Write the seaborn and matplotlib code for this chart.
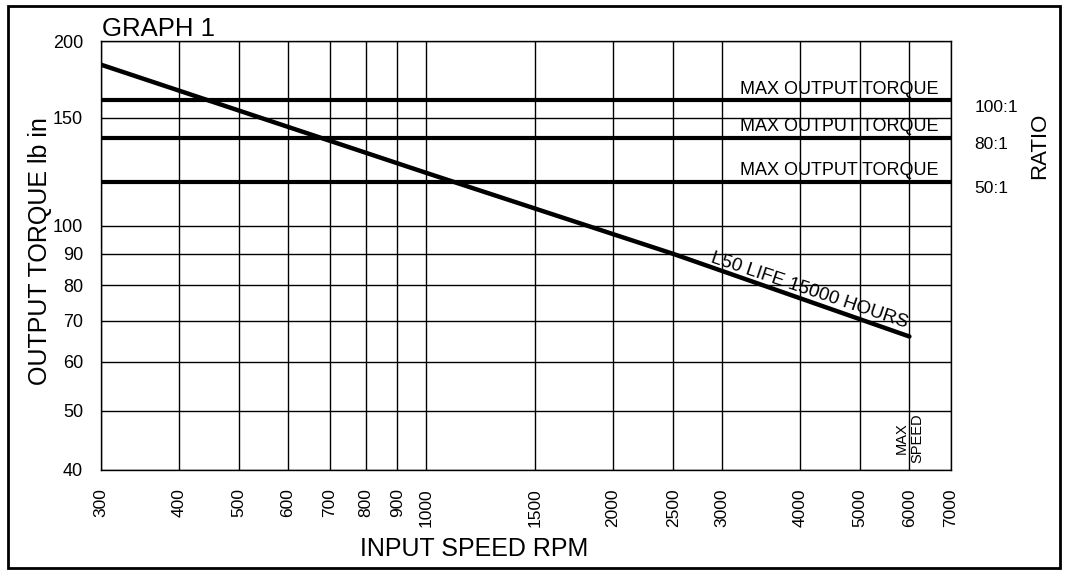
import numpy as np
import matplotlib
matplotlib.use("Agg")
import matplotlib.pyplot as plt
import matplotlib.ticker as mticker
from matplotlib.patches import Rectangle
import seaborn as sns

# Data
speed_rpm = [300, 1000, 2500, 6000]
life_torque = [183, 122, 90, 66]          # L50 life 15000 hours
ratios = ["100:1", "80:1", "50:1"]
max_torque = [160, 139, 118]              # max output torque per ratio
max_speed = 6000

x_ticks = [300, 400, 500, 600, 700, 800, 900, 1000, 1500, 2000, 2500,
           3000, 4000, 5000, 6000, 7000]
y_ticks = [40, 50, 60, 70, 80, 90, 100, 150, 200]

sns.set_style("white")
plt.rcParams["font.family"] = ["Liberation Sans", "DejaVu Sans"]
plt.rcParams["text.color"] = "black"
plt.rcParams["xtick.color"] = "black"
plt.rcParams["ytick.color"] = "black"

fig = plt.figure(figsize=(10.7, 5.71), dpi=100)
fig.subplots_adjust(left=101 / 1070, right=951 / 1070, top=1 - 41 / 571, bottom=1 - 470 / 571)
ax = fig.add_subplot(111)

# life curve
sns.lineplot(x=speed_rpm, y=life_torque, color="black", linewidth=3.2, ax=ax)

# max output torque lines
ax.hlines(max_torque, x_ticks[0], x_ticks[-1], color="black", linewidth=3.0)

ax.set_xscale("log")
ax.set_yscale("log")
ax.set_xlim(x_ticks[0], x_ticks[-1])
ax.set_ylim(y_ticks[0], y_ticks[-1])
ax.xaxis.set_major_locator(mticker.FixedLocator(x_ticks))
ax.yaxis.set_major_locator(mticker.FixedLocator(y_ticks))
ax.xaxis.set_minor_locator(mticker.NullLocator())
ax.yaxis.set_minor_locator(mticker.NullLocator())
ax.set_xticklabels([str(v) for v in x_ticks], rotation=90, fontsize=12.5)
ax.set_yticklabels([str(v) for v in y_ticks], fontsize=13)
ax.tick_params(axis="both", length=0, pad=13)
ax.grid(True, which="major", color="black", linewidth=1.0)
ax.set_axisbelow(True)
for sp in ax.spines.values():
    sp.set_color("black")
    sp.set_linewidth(1.0)
ax.set_xlabel("")
ax.set_ylabel("")

# labels on torque lines
for r, t in zip(ratios, max_torque):
    ax.annotate("MAX OUTPUT TORQUE", xy=(3200, t), xytext=(0, 2), textcoords="offset points",
                ha="left", va="bottom", fontsize=13)
    ax.annotate(r, xy=(1, t), xycoords=("axes fraction", "data"), xytext=(17, -5),
                textcoords="offset points", ha="left", va="center", fontsize=12.5)

# life label along the curve
p0 = ax.transData.transform((speed_rpm[0], life_torque[0]))
p1 = ax.transData.transform((speed_rpm[-1], life_torque[-1]))
angle = np.degrees(np.arctan2(p1[1] - p0[1], p1[0] - p0[0]))
x_lab = 2870
y_lab = np.exp(np.interp(np.log(x_lab), np.log(speed_rpm), np.log(life_torque)))
ax.annotate("L50 LIFE 15000 HOURS", xy=(x_lab, y_lab), xytext=(0, 3.5), textcoords="offset points",
            ha="left", va="baseline", rotation=angle, rotation_mode="anchor", fontsize=13.5)

ax.text(max_speed, 45, "MAX\nSPEED", rotation=90, ha="center", va="center",
        multialignment="center", fontsize=10.5, linespacing=1.1)

fig.text(102 / 1070, 1 - 36 / 571, "GRAPH 1", fontsize=18.5, ha="left", va="baseline")
fig.text(474 / 1070, 1 - 549 / 571, "INPUT SPEED RPM", fontsize=18, ha="center", va="center")
fig.text(40 / 1070, 1 - 251 / 571, "OUTPUT TORQUE lb in", fontsize=18, rotation=90,
         ha="center", va="center")
fig.text(1040 / 1070, 1 - 146 / 571, "RATIO", fontsize=16, rotation=90, ha="center", va="center")

# outer frame
fig.patches.append(Rectangle((8 / 1070, 1 - 568 / 571), 1052 / 1070, 562 / 571,
                             transform=fig.transFigure, fill=False, edgecolor="black", linewidth=2))

fig.savefig("out.png", dpi=100)
